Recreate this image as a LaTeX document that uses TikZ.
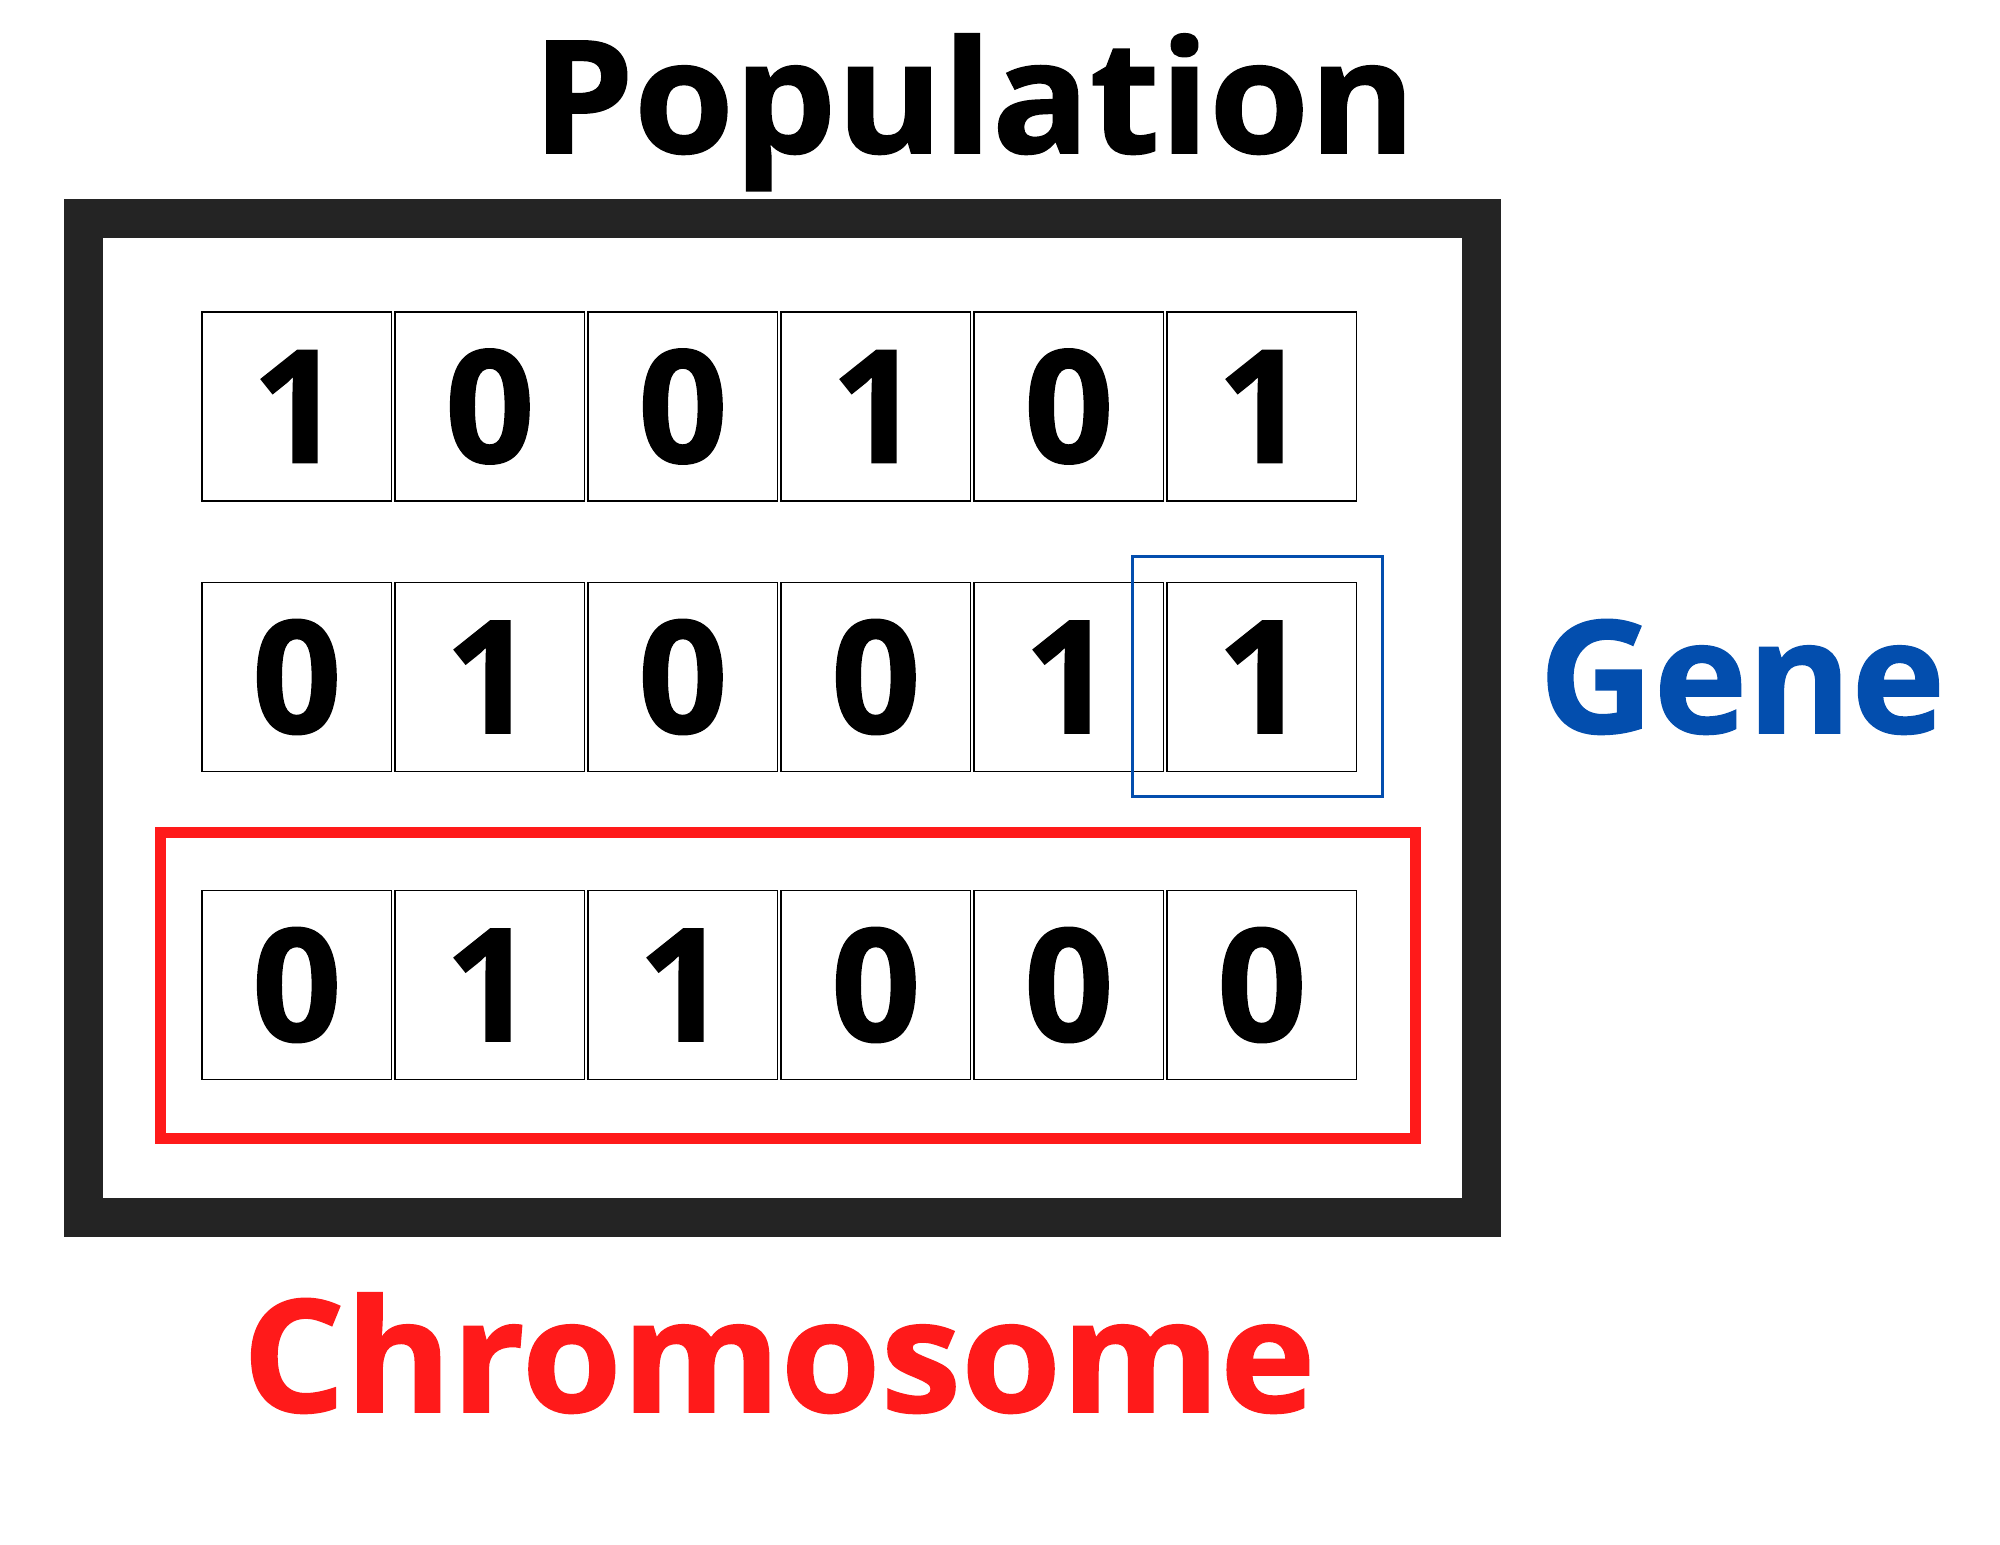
\documentclass[tikz,border=0pt]{standalone}
\usepackage{fontspec}
\setmainfont{Open Sans}[BoldFeatures={FakeBold=1}]
\definecolor{framegray}{HTML}{242424}
\definecolor{chromred}{HTML}{FF1A1A}
\definecolor{geneblue}{HTML}{034EAE}
\tikzset{
  cell/.style={draw=black, line width=0.75pt, minimum width=94.6pt, minimum height=94.6pt, inner sep=0pt,
    font=\fontsize{78.5pt}{80pt}\selectfont\bfseries},
  bigtext/.style={inner sep=0pt, anchor=base, xscale=1.03, font=\fontsize{78.5pt}{80pt}\selectfont\bfseries},
}
\begin{document}
\begin{tikzpicture}[x=0.5pt,y=-0.5pt]
\useasboundingbox[fill=white] (0,0) rectangle (2000,1545);
\node[draw=framegray, line width=19.5pt, minimum width=698.75pt, minimum height=499.25pt, inner sep=0pt] (population) at (782.25,718.25) {};
\node[bigtext] (poptitle) at (974,153) {Population};
% cells
\foreach \r/\y/\digits in {1/406.5/{1,0,0,1,0,1}, 2/677/{0,1,0,0,1,1}, 3/985/{0,1,1,0,0,0}} {
  \foreach \d [count=\c] in \digits {
    \node[cell] (c\r\c) at ({201.5+95.3+193*(\c-1)},\y) {\d};
  }
}
\node[draw=chromred, line width=5.5pt, minimum width=627.9pt, minimum height=152.75pt, inner sep=0pt] (chromosome) at (788,985.25) {};
\node[draw=geneblue, line width=1.5pt, minimum width=125pt, minimum height=119.75pt, inner sep=0pt] (gene) at (1257.5,676.25) {};
\node[bigtext, text=geneblue, xscale=0.98] (genelabel) at (1742,733) {Gene};
\node[bigtext, text=chromred] (chromlabel) at (779,1412) {Chromosome};
\end{tikzpicture}
\end{document}
